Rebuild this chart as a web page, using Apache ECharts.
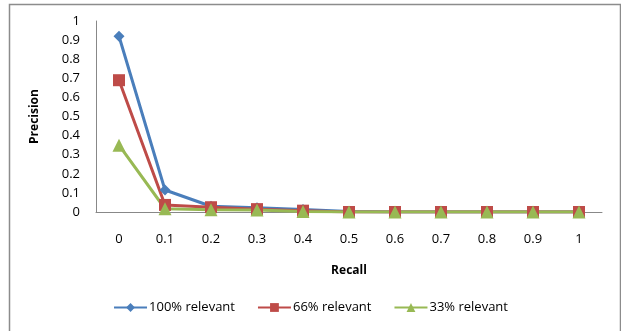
<!DOCTYPE html>
<html>
<head>
<meta charset="utf-8">
<script src="https://cdn.jsdelivr.net/npm/echarts@6/dist/echarts.min.js"></script>
<style>
  html, body { margin: 0; padding: 0; background: #fff; }
  #chart { width: 621px; height: 331px; }
</style>
</head>
<body>
<div id="chart"></div>
<script>
// Recall levels along the x axis
const recall = ['0', '0.1', '0.2', '0.3', '0.4', '0.5', '0.6', '0.7', '0.8', '0.9', '1'];

// Precision at each recall level
const relevant100 = [0.92, 0.115, 0.03, 0.022, 0.013, 0.003, 0, 0, 0, 0, 0];
const relevant66  = [0.69, 0.037, 0.025, 0.015, 0.007, 0, 0, 0, 0, 0, 0];
const relevant33  = [0.35, 0.017, 0.012, 0.01, 0.002, 0, 0, 0, 0, 0, 0];

const seriesNames = ['100% relevant', '66% relevant', '33% relevant'];
const FONT = 'Open Sans';

const chart = echarts.init(document.getElementById('chart'));

function lineSeries(name, data, color, symbol, size) {
  return {
    name: name,
    type: 'line',
    data: data,
    symbol: symbol,
    symbolSize: size,
    showAllSymbol: true,
    lineStyle: { color: color, width: 3 },
    itemStyle: { color: color },
    emphasis: { disabled: true },
    animation: false
  };
}

chart.setOption({
  animation: false,
  textStyle: { fontFamily: FONT },
  graphic: [{
    type: 'rect',
    shape: { x: 9.5, y: 4.5, width: 611, height: 340 },
    style: { fill: 'none', stroke: '#8c8c8c', lineWidth: 1.5 },
    silent: true
  }],
  grid: { left: 96, right: 19, top: 21, bottom: 119 },
  legend: {
    bottom: 12,
    left: 'center',
    itemWidth: 33,
    itemHeight: 11,
    itemGap: 22,
    data: seriesNames,
    textStyle: { fontFamily: FONT, fontSize: 13, color: '#000', padding: [0, 0, 0, -3] }
  },
  xAxis: {
    type: 'category',
    data: recall,
    boundaryGap: true,
    name: 'Recall',
    nameLocation: 'middle',
    nameGap: 53,
    nameTextStyle: { fontFamily: FONT, fontWeight: 'bold', fontSize: 12, color: '#000' },
    axisLine: { lineStyle: { color: '#888', width: 1 } },
    axisTick: { show: false },
    axisLabel: { color: '#000', fontSize: 13, margin: 21, fontFamily: FONT }
  },
  yAxis: {
    type: 'value',
    min: 0,
    max: 1,
    interval: 0.1,
    name: 'Precision',
    nameLocation: 'middle',
    nameRotate: 90,
    nameGap: 55,
    nameTextStyle: { fontFamily: FONT, fontWeight: 'bold', fontSize: 12, color: '#000' },
    axisLine: { show: true, lineStyle: { color: '#888', width: 1 } },
    axisTick: { show: false },
    splitLine: { show: false },
    axisLabel: {
      color: '#000', fontSize: 13, margin: 16, fontFamily: FONT,
      formatter: v => String(Math.round(v * 10) / 10)
    }
  },
  series: [
    lineSeries(seriesNames[0], relevant100, '#4a7ebb', 'diamond', 11),
    lineSeries(seriesNames[1], relevant66, '#be4b48', 'rect', 12),
    lineSeries(seriesNames[2], relevant33, '#98b954', 'triangle', 13)
  ]
});
</script>
</body>
</html>
